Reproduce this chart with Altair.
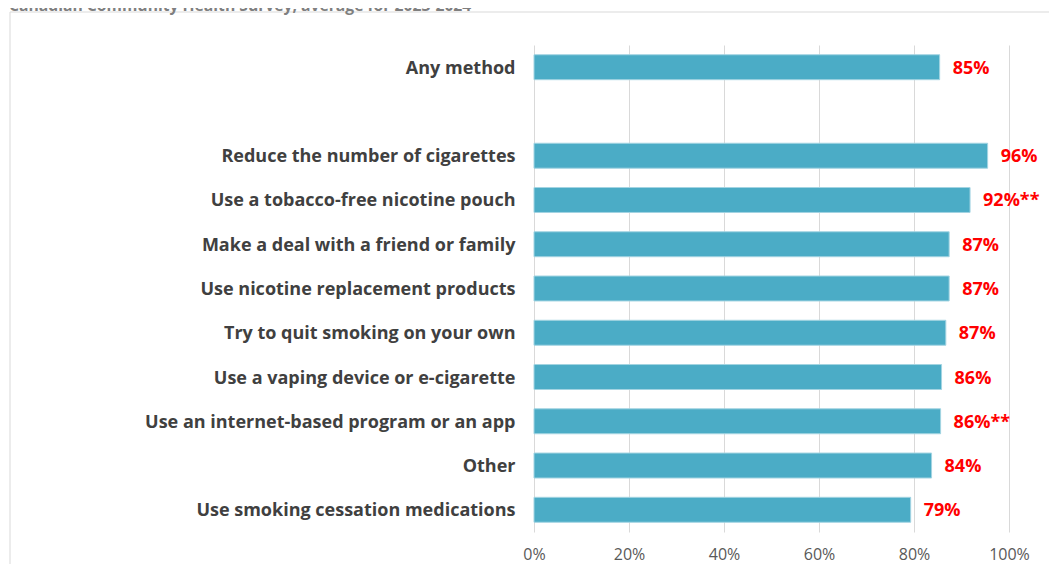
import altair as alt
import pandas as pd

title_text = "Canadian Community Health Survey, average for 2023-2024"
domain_cats = [
    "Any method",
    " ",
    "Reduce the number of cigarettes",
    "Use a tobacco-free nicotine pouch",
    "Make a deal with a friend or family",
    "Use nicotine replacement products",
    "Try to quit smoking on your own",
    "Use a vaping device or e-cigarette",
    "Use an internet-based program or an app",
    "Other",
    "Use smoking cessation medications",
]
bar_cats = [c for c in domain_cats if c.strip()]
values = [85.4, 95.5, 91.8, 87.4, 87.4, 86.7, 85.8, 85.6, 83.7, 79.3]
labels = ["85%", "96%", "92%**", "87%", "87%", "87%", "86%", "86%**", "84%", "79%"]
x_ticks = [0, 20, 40, 60, 80, 100]

df = pd.DataFrame({"cat": bar_cats, "val": values, "lbl": labels})

W, H = 475, 487
PAD_L, PAD_T = 526, 37
TOTAL_W, TOTAL_H = 1041, 556

yenc = alt.Y(
    "cat:N",
    sort=None,
    scale=alt.Scale(domain=domain_cats, paddingInner=0.436, paddingOuter=0.22),
    axis=alt.Axis(
        title=None, domain=False, ticks=False, grid=False,
        labelFont="Open Sans", labelFontWeight="bold", labelFontSize=18,
        labelColor="#404040", labelPadding=19, labelLimit=520, labelOffset=1.5,
    ),
)
xenc = alt.X(
    "val:Q",
    scale=alt.Scale(domain=[0, 100], nice=False),
    axis=alt.Axis(
        title=None, values=x_ticks, labelExpr="datum.value + '%'",
        domain=False, ticks=False, grid=True, gridColor="#d9d9d9",
        labelFont="Open Sans", labelFontSize=16, labelColor="#595959",
        labelPadding=14, labelFlush=False,
    ),
)

bars = alt.Chart(df).mark_bar(
    color="#4BACC6", stroke="#a3d4e2", strokeWidth=1
).encode(x=xenc, y=yenc)

text = alt.Chart(df).mark_text(
    align="left", baseline="middle", dx=13, dy=1.5,
    font="Open Sans", fontWeight="bold", fontSize=18, color="#FF0000",
).encode(x="val:Q", y=alt.Y("cat:N", sort=None), text="lbl:N")

box = alt.Chart(pd.DataFrame({"k": [0]})).mark_rect(
    fill=None, stroke="#d9d9d9", strokeWidth=1
).encode(
    x=alt.value(-PAD_L + 2), x2=alt.value(TOTAL_W - PAD_L + 5),
    y=alt.value(-PAD_T + 4), y2=alt.value(TOTAL_H - PAD_T + 5),
)

title = alt.Chart(pd.DataFrame({"t": [title_text]})).mark_text(
    align="left", baseline="alphabetic",
    font="Open Sans", fontWeight="bold", fontSize=15.7, color="#7f7f7f",
).encode(x=alt.value(-PAD_L + 1), y=alt.value(-PAD_T + 3), text="t:N")

chart = alt.layer(box, title, bars, text).properties(
    width=W, height=H,
    autosize=alt.AutoSizeParams(type="none"),
    padding={"left": PAD_L, "top": PAD_T,
             "right": TOTAL_W - PAD_L - W, "bottom": TOTAL_H - PAD_T - H},
).configure_view(stroke=None)

chart.save("out.html", embed_options={"renderer": "svg", "actions": False})
